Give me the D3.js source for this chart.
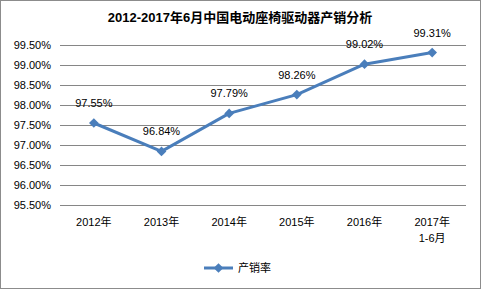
<!DOCTYPE html>
<html>
<head>
<meta charset="utf-8">
<script src="https://cdn.jsdelivr.net/npm/d3@7"></script>
<style>
  body { margin: 0; background: #fff; }
  text { font-family: "Liberation Sans", "Noto Sans CJK SC", sans-serif; }
</style>
</head>
<body>
<svg id="chart" width="481" height="289"></svg>
<script>
const categories = ['2012年', '2013年', '2014年', '2015年', '2016年', '2017年\n1-6月'];
const rates = [97.55, 96.84, 97.79, 98.26, 99.02, 99.31];
const yTicks = [95.5, 96, 96.5, 97, 97.5, 98, 98.5, 99, 99.5];
const seriesName = '产销率';

const LINE = '#4a7ebb';
const GRID = '#868686';
const TEXT = '#000';

const root = d3.select('#chart');
const width = +root.attr('width');
const height = +root.attr('height');

root.append('rect')
  .attr('x', 0.5).attr('y', 0.5)
  .attr('width', width - 1).attr('height', height - 1)
  .attr('fill', '#fff')
  .attr('stroke', '#8c8c8c');

root.append('text')
  .attr('x', 240).attr('y', 22)
  .attr('text-anchor', 'middle')
  .attr('font-size', '13px')
  .attr('font-weight', 'bold')
  .attr('fill', TEXT)
  .text('2012-2017年6月中国电动座椅驱动器产销分析');

const x = d3.scaleBand().domain(categories).range([60, 466]);
const y = d3.scaleLinear().domain([95.5, 99.5]).range([205, 45]);

const g = root.append('g');

// gridlines
g.append('g')
  .selectAll('line')
  .data(yTicks)
  .enter()
  .append('line')
  .attr('x1', 60).attr('x2', 466)
  .attr('y1', d => Math.round(y(d)) + 0.5)
  .attr('y2', d => Math.round(y(d)) + 0.5)
  .attr('stroke', GRID)
  .attr('stroke-width', 1);

// y labels
g.append('g')
  .selectAll('text')
  .data(yTicks)
  .enter()
  .append('text')
  .attr('x', 51)
  .attr('y', d => y(d))
  .attr('dy', '.35em')
  .attr('text-anchor', 'end')
  .attr('font-size', '11px')
  .attr('fill', TEXT)
  .text(d => d.toFixed(2) + '%');

// x labels
const xl = g.append('g')
  .selectAll('text')
  .data(categories)
  .enter()
  .append('text')
  .attr('text-anchor', 'middle')
  .attr('font-size', '11px')
  .attr('fill', TEXT)
  .attr('transform', d => 'translate(' + (x(d) + x.bandwidth() / 2) + ',226)');
xl.selectAll('tspan')
  .data(d => d.split('\n'))
  .enter()
  .append('tspan')
  .attr('x', 0)
  .attr('dy', (d, i) => i === 0 ? 0 : 16)
  .text(d => d);

const pts = categories.map((c, i) => ({ c, v: rates[i] }));
const cx = d => x(d.c) + x.bandwidth() / 2;

g.append('path')
  .datum(pts)
  .attr('fill', 'none')
  .attr('stroke', LINE)
  .attr('stroke-width', 3)
  .attr('stroke-linejoin', 'round')
  .attr('d', d3.line().x(cx).y(d => y(d.v)));

const diamond = d3.symbol().type(d3.symbolDiamond2).size(60);
g.append('g')
  .selectAll('path')
  .data(pts)
  .enter()
  .append('path')
  .attr('d', diamond)
  .attr('fill', LINE)
  .attr('transform', d => 'translate(' + cx(d) + ',' + y(d.v) + ')');

g.append('g')
  .selectAll('text')
  .data(pts)
  .enter()
  .append('text')
  .attr('x', cx)
  .attr('y', d => y(d.v) - 16)
  .attr('text-anchor', 'middle')
  .attr('font-size', '11px')
  .attr('fill', TEXT)
  .text(d => d.v.toFixed(2) + '%');

// legend
const lg = root.append('g').attr('transform', 'translate(204,268)');
lg.append('line')
  .attr('x1', 0).attr('x2', 29)
  .attr('stroke', LINE).attr('stroke-width', 3);
lg.append('path')
  .attr('d', diamond)
  .attr('fill', LINE)
  .attr('transform', 'translate(14.5,0)');
lg.append('text')
  .attr('x', 34).attr('dy', '.35em')
  .attr('font-size', '11px')
  .attr('fill', TEXT)
  .text(seriesName);
</script>
</body>
</html>
